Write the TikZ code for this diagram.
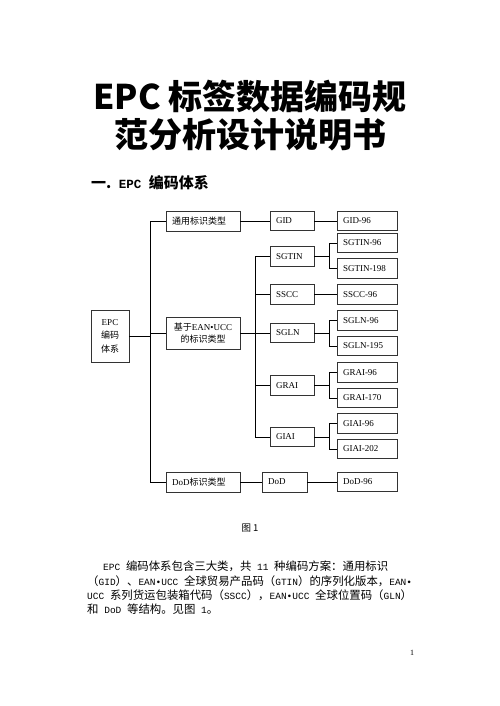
\documentclass[tikz,border=0pt]{standalone}
\usepackage{fontspec}
\setmainfont{Liberation Serif}
\newfontfamily\cjk{Noto Sans CJK SC}
\newfontfamily\mono[Scale=0.8333]{Liberation Mono}
\usetikzlibrary{shadows}
\begin{document}
\begin{tikzpicture}[x=1pt,y=-1pt,
  box/.style={draw=black!80, line width=0.6pt, fill=white,
    drop shadow={shadow xshift=0.7pt,shadow yshift=-0.7pt,fill=black!60,opacity=1},
    inner ysep=0pt, inner xsep=6pt, font=\fontsize{9}{11}\selectfont},
  lone/.style={box, text width=62pt, minimum height=20pt, align=left},
  ltwo/.style={box, text width=32pt, minimum height=19.5pt, align=left},
  lthree/.style={box, text width=48pt, minimum height=19.5pt, align=left},
  conn/.style={draw=black, line width=0.6pt},
  body/.style={anchor=west, inner sep=0pt, font=\cjk\fontsize{11.4}{12}\selectfont}
]
\useasboundingbox[fill=white] (0,0) rectangle (500,706);

% title
\node (t1) at (250,97) {\cjk\bfseries\fontsize{34}{34}\selectfont EPC 标签数据编码规};
\node (t2) at (250,135) {\cjk\bfseries\fontsize{34}{34}\selectfont 范分析设计说明书};
\node[anchor=west,inner sep=0pt] (h) at (91,183) {\cjk\bfseries\fontsize{15}{15}\selectfont 一.{\mono\bfseries\ EPC }编码体系};

% root
\node[box, text width=26pt, minimum height=52pt, align=center, inner xsep=6pt,
      font=\fontsize{9}{13.5}\selectfont] (epc) at (110,336) {EPC\\{\cjk 编码}\\{\cjk 体系}};

% level 1
\node[lone] (tong) at (203,221) {{\cjk 通用标识类型}};
\node[box, text width=62pt, minimum height=32pt, align=center,
      font=\fontsize{9}{12}\selectfont] (ean) at (203,333) {{\cjk 基于}EAN•UCC\\{\cjk 的标识类型}};
\node[lone] (dodt) at (203,482) {DoD{\cjk 标识类型}};

% level 2
\node[ltwo] (gid) at (292,221) {GID};
\node[ltwo] (sgtin) at (292,256.5) {SGTIN};
\node[ltwo] (sscc) at (292,294.5) {SSCC};
\node[ltwo] (sgln) at (292,333) {SGLN};
\node[ltwo] (grai) at (292,385.5) {GRAI};
\node[ltwo] (giai) at (292,437) {GIAI};
\node[box, text width=33pt, minimum height=20pt, align=left] (dod) at (284.5,482) {DoD};

% level 3
\node[lthree] (gid96) at (367,221) {GID-96};
\node[lthree] (sgtin96) at (367,243) {SGTIN-96};
\node[lthree] (sgtin198) at (367,268.5) {SGTIN-198};
\node[lthree] (sscc96) at (367,294.5) {SSCC-96};
\node[lthree] (sgln96) at (367,320.5) {SGLN-96};
\node[lthree] (sgln195) at (367,346) {SGLN-195};
\node[lthree] (grai96) at (367,372.5) {GRAI-96};
\node[lthree] (grai170) at (367,398) {GRAI-170};
\node[lthree] (giai96) at (367,423.5) {GIAI-96};
\node[lthree] (giai202) at (367,449) {GIAI-202};
\node[lthree] (dod96) at (367,482) {DoD-96};

% spines
\coordinate (sp) at (150,0);
\coordinate (sptwo) at (255,0);
\coordinate (br) at (329,0);

\draw[conn] (tong.west) -- (tong.west -| sp) -- (sp |- dodt.west) -- (dodt.west);
\draw[conn] (epc.east) -- (epc.east -| sp);
\draw[conn] (sp |- ean.west) -- (ean.west);

\draw[conn] (tong.east) -- (gid.west);
\draw[conn] (gid.east) -- (gid96.west);
\draw[conn] (dodt.east) -- (dod.west);
\draw[conn] (dod.east) -- (dod96.west);

\draw[conn] (ean.east) -- (ean.east -| sptwo);
\draw[conn] (sgtin.west) -- (sgtin.west -| sptwo) -- (sptwo |- giai.west) -- (giai.west);
\draw[conn] (sptwo |- sscc.west) -- (sscc.west);
\draw[conn] (sptwo |- sgln.west) -- (sgln.west);
\draw[conn] (sptwo |- grai.west) -- (grai.west);

\draw[conn] (sscc.east) -- (sscc96.west);

\draw[conn] (sgtin.east) -- (sgtin.east -| br);
\draw[conn] (sgtin96.west) -- (sgtin96.west -| br) -- (br |- sgtin198.west) -- (sgtin198.west);
\draw[conn] (sgln.east) -- (sgln.east -| br);
\draw[conn] (sgln96.west) -- (sgln96.west -| br) -- (br |- sgln195.west) -- (sgln195.west);
\draw[conn] (grai.east) -- (grai.east -| br);
\draw[conn] (grai96.west) -- (grai96.west -| br) -- (br |- grai170.west) -- (grai170.west);
\draw[conn] (giai.east) -- (giai.east -| br);
\draw[conn] (giai96.west) -- (giai96.west -| br) -- (br |- giai202.west) -- (giai202.west);

% caption
\node (cap) at (250,528) {\cjk\fontsize{9.5}{10}\selectfont 图 1};

% body text
\node[body] (b1) at (103,566) {{\mono EPC }编码体系包含三大类，共{\mono\ 11 }种编码方案：通用标识};
\node[body] (b2) at (87,581) {（{\mono GID}）、{\mono EAN•UCC }全球贸易产品码（{\mono GTIN}）的序列化版本，{\mono EAN•}};
\node[body] (b3) at (87,595) {{\mono UCC }系列货运包装箱代码（{\mono SSCC}），{\mono EAN•UCC }全球位置码（{\mono GLN}）};
\node[body] (b4) at (87,609) {和{\mono\ DoD }等结构。见图{\mono\ 1}。};

% page number
\node (pg) at (412,653) {\fontsize{8}{8}\selectfont 1};
\end{tikzpicture}
\end{document}
